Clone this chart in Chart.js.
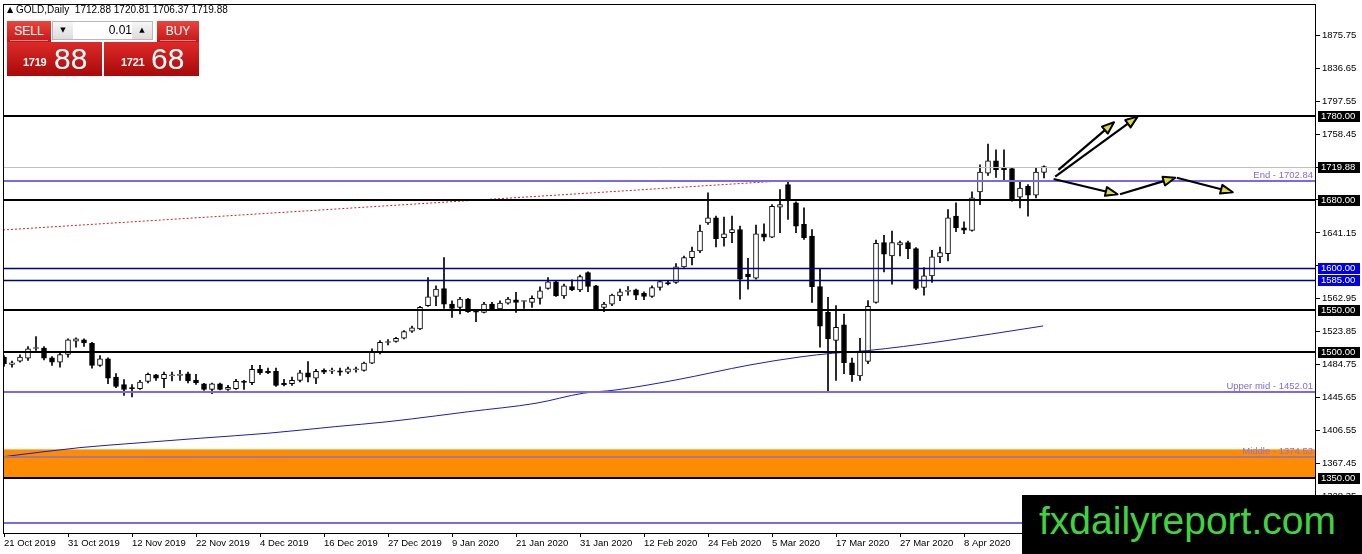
<!DOCTYPE html>
<html>
<head>
<meta charset="utf-8">
<script src="https://cdn.jsdelivr.net/npm/chart.js@4.4.1/dist/chart.umd.min.js"></script>
<style>
  body { margin: 0; background: #fff; overflow: hidden; }
  #wrap { position: relative; width: 1362px; height: 554px; }
  #chart { position: absolute; left: 0; top: 0; }
  .hdr { position: absolute; left: 7px; top: 4px; font: 10px 'Liberation Sans', Arial, sans-serif; color: #000; white-space: pre; }
  .hdr .tri { font: 8px 'DejaVu Sans', sans-serif; vertical-align: 1px; }
  .btn { position: absolute; top: 21px; height: 21px; background: linear-gradient(#ea453d, #c51717); color: #fff;
         font: 12px 'Liberation Sans', Arial, sans-serif; text-align: center; line-height: 20px; }
  .btn i { position: absolute; left: 3px; right: 3px; bottom: 1px; height: 1px; background: #f08a86; }
  .spin { position: absolute; left: 52px; top: 21px; width: 101px; height: 19px; background: #fff; border: 1px solid #b8b8b8; box-sizing: border-box; }
  .spin .b { position: absolute; top: 0; width: 20px; height: 17px; background: linear-gradient(#f6f6f6, #dcdcdc); font: 7px 'DejaVu Sans', sans-serif; text-align: center; line-height: 17px; color: #000; }
  .spin .v { position: absolute; left: 21px; width: 58px; top: 0; height: 17px; font: 12px 'Liberation Sans', Arial, sans-serif; text-align: right; line-height: 17px; color: #000; }
  .price { position: absolute; top: 42px; width: 95px; height: 34px; background: linear-gradient(#dd2a28, #a80909); color: #fff; }
  .price .sm { position: absolute; top: 15px; font: bold 11px 'Liberation Sans', Arial, sans-serif; line-height: 1; letter-spacing: -0.3px; }
  .price .lg { position: absolute; top: 2px; font: 30px 'Liberation Sans', Arial, sans-serif; line-height: 1; }
  .wm { position: absolute; left: 1022px; top: 495px; width: 340px; height: 59px; background: #000; }
  .wm span { position: absolute; left: 17px; top: 6px; font: 39px 'Liberation Sans', Arial, sans-serif; line-height: 1; color: #3fd43f; }
</style>
</head>
<body>
<div id="wrap">
  <canvas id="chart" width="1362" height="554"></canvas>
  <div class="hdr"><span class="tri">&#9650;</span> GOLD,Daily  1712.88 1720.81 1706.37 1719.88</div>
  <div class="btn" style="left:7px;width:44px">SELL<i></i></div>
  <div class="spin"><div class="b" style="left:0">&#9660;</div><div class="v">0.01</div><div class="b" style="right:0">&#9650;</div></div>
  <div class="btn" style="left:157px;width:42px">BUY<i></i></div>
  <div class="price" style="left:7px"><span class="sm" style="left:16px">1719</span><span class="lg" style="left:47px">88</span></div>
  <div class="price" style="left:104px"><span class="sm" style="left:17px">1721</span><span class="lg" style="left:47px">68</span></div>
  <div class="wm"><span>fxdailyreport.com</span></div>
</div>
<script>
// daily bars, 21 Oct 2019 .. 17 Apr 2020, one per trading day
const tickLabels = ['21 Oct 2019', '31 Oct 2019', '12 Nov 2019', '22 Nov 2019', '4 Dec 2019', '16 Dec 2019',
  '27 Dec 2019', '9 Jan 2020', '21 Jan 2020', '31 Jan 2020', '12 Feb 2020', '24 Feb 2020', '5 Mar 2020',
  '17 Mar 2020', '27 Mar 2020', '8 Apr 2020'];
const barsPerLabel = 8;
const priceTicks = [1875.75, 1836.65, 1797.55, 1758.45, 1719.35, 1680.25, 1641.15, 1602.05, 1562.95,
  1523.85, 1484.75, 1445.65, 1406.55, 1367.45, 1328.35];

const open = [1493.5, 1484.9, 1488.8, 1492.4, 1503.8, 1504.2, 1492.7, 1487.6, 1496.7, 1512.5,
  1514.0, 1510.1, 1483.7, 1491.6, 1469.9, 1460.9, 1457.3, 1456.1, 1464.8, 1472.7,
  1467.9, 1471.5, 1471.9, 1473.8, 1466.0, 1462.0, 1455.3, 1462.0, 1455.3, 1456.1,
  1465.2, 1463.2, 1479.0, 1476.6, 1476.6, 1462.4, 1462.0, 1466.0, 1475.0, 1468.7,
  1477.8, 1477.0, 1477.4, 1475.8, 1478.6, 1477.8, 1486.4, 1499.5, 1510.9, 1512.1,
  1516.0, 1524.5, 1527.0, 1554.6, 1565.7, 1575.1, 1556.6, 1552.6, 1562.5, 1548.7,
  1546.7, 1556.6, 1550.7, 1557.8, 1561.7, 1559.7, 1558.6, 1563.3, 1575.1, 1583.0,
  1566.4, 1577.5, 1573.5, 1594.0, 1578.3, 1552.6, 1556.6, 1566.4, 1571.6, 1573.5,
  1569.6, 1565.7, 1576.3, 1582.2, 1582.2, 1600.7, 1611.8, 1619.6, 1653.1, 1659.0,
  1635.4, 1641.3, 1645.2, 1592.1, 1587.3, 1640.1, 1636.2, 1671.6, 1698.4, 1676.8,
  1651.2, 1637.4, 1577.5, 1546.8, 1513.3, 1531.8, 1486.9, 1471.2, 1488.5, 1558.6,
  1629.5, 1613.8, 1626.8, 1629.5, 1622.4, 1576.3, 1590.1, 1612.6, 1616.5, 1661.0,
  1647.2, 1644.1, 1689.8, 1712.2, 1726.8, 1718.2, 1717.4, 1683.5, 1696.5, 1685.8,
  1712.88];
const high = [1495.5, 1488.8, 1496.3, 1506.2, 1518.0, 1506.2, 1494.3, 1498.3, 1515.2, 1516.4,
  1515.2, 1511.3, 1495.5, 1492.7, 1473.9, 1466.8, 1460.9, 1466.0, 1474.6, 1473.1,
  1475.8, 1475.8, 1477.8, 1475.8, 1473.1, 1462.4, 1462.8, 1462.8, 1460.0, 1467.1,
  1466.0, 1483.7, 1483.7, 1480.5, 1480.5, 1467.1, 1469.9, 1477.8, 1488.4, 1479.0,
  1479.7, 1480.5, 1480.5, 1481.7, 1481.7, 1487.6, 1503.4, 1513.2, 1514.4, 1517.2,
  1525.1, 1530.5, 1553.8, 1588.1, 1578.3, 1611.8, 1560.5, 1564.5, 1563.3, 1549.5,
  1558.6, 1558.6, 1560.5, 1564.5, 1570.4, 1560.5, 1566.4, 1577.1, 1588.1, 1584.2,
  1580.2, 1585.4, 1590.9, 1594.8, 1579.0, 1558.6, 1568.4, 1574.3, 1577.5, 1574.3,
  1571.2, 1578.3, 1584.9, 1584.2, 1604.7, 1613.7, 1624.4, 1650.4, 1688.6, 1661.0,
  1659.8, 1661.0, 1649.2, 1611.0, 1650.4, 1652.0, 1674.8, 1692.5, 1702.4, 1678.0,
  1670.9, 1645.2, 1598.0, 1564.5, 1554.7, 1544.8, 1492.4, 1516.0, 1560.6, 1632.7,
  1638.2, 1643.3, 1631.5, 1631.5, 1623.6, 1600.0, 1620.4, 1624.4, 1668.9, 1676.8,
  1654.3, 1689.8, 1722.1, 1746.5, 1739.8, 1739.8, 1718.2, 1702.4, 1698.5, 1718.2,
  1720.81];
const low = [1482.5, 1481.7, 1487.6, 1489.6, 1501.4, 1490.4, 1483.7, 1481.7, 1493.5, 1505.4,
  1506.2, 1480.5, 1482.5, 1462.0, 1457.3, 1448.2, 1446.3, 1455.3, 1462.8, 1466.0,
  1457.3, 1465.2, 1466.0, 1462.8, 1461.2, 1454.1, 1450.2, 1454.5, 1454.1, 1455.3,
  1455.3, 1460.8, 1473.1, 1473.8, 1458.9, 1459.3, 1460.0, 1464.0, 1464.0, 1462.0,
  1473.8, 1473.8, 1471.9, 1473.8, 1475.8, 1477.0, 1485.7, 1497.5, 1508.1, 1511.3,
  1515.2, 1523.0, 1526.3, 1553.8, 1554.6, 1551.5, 1540.8, 1544.8, 1546.7, 1535.7,
  1546.0, 1548.7, 1548.7, 1556.6, 1546.7, 1551.5, 1552.6, 1556.6, 1574.3, 1565.7,
  1563.3, 1572.4, 1571.2, 1571.2, 1549.9, 1547.5, 1554.6, 1560.5, 1567.2, 1561.7,
  1561.7, 1564.5, 1573.1, 1579.4, 1581.0, 1600.0, 1603.1, 1617.7, 1651.2, 1624.4,
  1625.5, 1629.5, 1562.5, 1574.3, 1586.2, 1631.5, 1635.4, 1641.3, 1657.1, 1641.3,
  1633.4, 1558.6, 1505.4, 1453.0, 1466.0, 1473.9, 1464.8, 1466.0, 1485.7, 1557.8,
  1594.9, 1580.3, 1613.8, 1610.6, 1573.6, 1567.3, 1582.2, 1605.9, 1607.8, 1642.5,
  1640.1, 1643.3, 1674.8, 1709.5, 1707.1, 1702.4, 1678.8, 1670.9, 1661.0, 1682.7,
  1706.37];
const close = [1485.7, 1486.9, 1493.5, 1503.4, 1504.6, 1492.4, 1487.6, 1496.7, 1514.0, 1515.2,
  1510.5, 1483.7, 1491.6, 1468.7, 1458.9, 1455.3, 1456.1, 1464.0, 1473.1, 1468.7,
  1473.1, 1472.3, 1472.3, 1465.2, 1463.2, 1455.3, 1462.0, 1455.3, 1457.7, 1464.8,
  1463.6, 1479.0, 1475.0, 1475.0, 1460.0, 1460.8, 1466.0, 1475.0, 1469.9, 1476.6,
  1475.8, 1477.4, 1475.8, 1479.7, 1479.4, 1486.4, 1500.2, 1511.3, 1511.7, 1516.0,
  1523.9, 1528.5, 1552.6, 1565.3, 1574.3, 1556.6, 1551.5, 1562.5, 1547.5, 1547.1,
  1556.6, 1549.9, 1557.8, 1562.5, 1558.6, 1560.1, 1563.3, 1572.4, 1583.0, 1566.4,
  1578.3, 1573.5, 1589.3, 1577.5, 1550.7, 1556.6, 1567.2, 1571.2, 1572.4, 1567.2,
  1565.7, 1576.3, 1583.4, 1580.6, 1600.7, 1611.8, 1619.6, 1643.3, 1659.0, 1634.2,
  1640.1, 1645.2, 1586.2, 1588.9, 1640.1, 1636.2, 1672.8, 1674.8, 1681.9, 1649.2,
  1635.4, 1577.3, 1530.2, 1515.3, 1529.1, 1486.9, 1472.7, 1500.3, 1553.9, 1628.8,
  1615.8, 1629.5, 1629.5, 1622.4, 1575.2, 1590.1, 1612.6, 1617.7, 1659.1, 1647.2,
  1644.5, 1682.7, 1713.4, 1726.8, 1716.2, 1716.2, 1681.9, 1694.5, 1685.8, 1713.4,
  1719.88];

// moving average (bar index, price)
const maBar = [0, 9.5, 16.25, 24.6, 33, 41.4, 48, 53.9, 58.1, 66.5, 72.4, 76.5, 84, 93.25, 99.5, 103.6, 107.9, 117, 129.9];
const maValue = [1375.4, 1386.1, 1391.3, 1397.3, 1403.2, 1411.0, 1416.9, 1423.7, 1428.8, 1438.8, 1450.7, 1454.6,
  1466.5, 1484.3, 1493.8, 1498.2, 1501.3, 1512.0, 1530.6];

// red trend line
const trendBar = [-0.125, 96.1];
const trendValue = [1644.6, 1702.2];

// horizontal levels and zone
const blackLevels = [1780, 1680, 1550, 1500, 1350];
const blueLevels = [1600, 1585];
const purpleLevels = [1702.84, 1452.01, 1297.0];
const middleLevel = 1374.53;
const bidLevel = 1719.88;
const zone = [1384.0, 1350];
const levelNotes = ['End - 1702.84', 'Upper mid - 1452.01', 'Middle - 1374.53'];
const levelNoteValues = [1702.84, 1452.01, 1374.53];
const blackBoxes = [1780, 1719.88, 1680, 1550, 1500, 1350];
const blueBoxes = [1600, 1585];

// drawn arrows: [bar index, price] from -> to
const arrowFrom = [[131.8, 1715.9], [131.4, 1707.9], [131.2, 1705.2], [139.5, 1687.0], [146.6, 1706.7]];
const arrowTo = [[138.75, 1772.5], [141.7, 1779.2], [139.2, 1687.0], [146.4, 1706.7], [153.6, 1689.4]];

const FONT = "'Liberation Sans', Arial, sans-serif";
const boxed = blackBoxes.concat(blueBoxes);

const overlay = {
  id: 'overlay',
  beforeDatasetsDraw(chart) {
    const { ctx, chartArea: a, scales: { y } } = chart;
    const t = y.getPixelForValue(zone[0]), b = y.getPixelForValue(zone[1]);
    ctx.save();
    ctx.fillStyle = '#ff8c00';
    ctx.fillRect(a.left, t, a.right - a.left, b - t);
    ctx.restore();
  },
  afterDatasetsDraw(chart) {
    const { ctx, chartArea: a, scales: { x, y } } = chart;
    const hline = (v, color, w) => {
      let py = y.getPixelForValue(v);
      py = w % 2 ? Math.round(py) + 0.5 : Math.round(py);
      ctx.beginPath();
      ctx.strokeStyle = color;
      ctx.lineWidth = w;
      ctx.moveTo(a.left, py);
      ctx.lineTo(a.right, py);
      ctx.stroke();
    };
    ctx.save();
    hline(middleLevel, '#a5789a', 2);
    hline(bidLevel, '#c0c0c0', 1);
    purpleLevels.forEach(v => hline(v, '#7b68ee', 2));
    blueLevels.forEach(v => hline(v, '#00008b', 1.5));
    blackLevels.forEach(v => hline(v, '#000', 2));

    ctx.font = '9.5px ' + FONT;
    ctx.textAlign = 'right';
    ctx.textBaseline = 'alphabetic';
    levelNotes.forEach((txt, k) => {
      ctx.fillStyle = k === 2 ? '#9a6fc8' : '#7b6be0';
      ctx.fillText(txt, a.right - 3, y.getPixelForValue(levelNoteValues[k]) - 3);
    });

    // arrows
    arrowFrom.forEach((f, k) => {
      const x0 = x.getPixelForValue(f[0]), y0 = y.getPixelForValue(f[1]);
      const x1 = x.getPixelForValue(arrowTo[k][0]), y1 = y.getPixelForValue(arrowTo[k][1]);
      const ang = Math.atan2(y1 - y0, x1 - x0);
      const len = 12, hw = 4.5;
      const bx = x1 - len * Math.cos(ang), by = y1 - len * Math.sin(ang);
      ctx.beginPath();
      ctx.strokeStyle = '#000';
      ctx.lineWidth = 2.2;
      ctx.moveTo(x0, y0);
      ctx.lineTo(bx, by);
      ctx.stroke();
      ctx.beginPath();
      ctx.moveTo(x1, y1);
      ctx.lineTo(bx - hw * Math.sin(ang), by + hw * Math.cos(ang));
      ctx.lineTo(bx + hw * Math.sin(ang), by - hw * Math.cos(ang));
      ctx.closePath();
      ctx.fillStyle = '#dede30';
      ctx.fill();
      ctx.lineWidth = 2;
      ctx.lineJoin = 'round';
      ctx.stroke();
    });
    ctx.restore();
  },
  afterDraw(chart) {
    const { ctx, chartArea: a, scales: { y } } = chart;
    ctx.save();
    ctx.strokeStyle = '#000';
    ctx.lineWidth = 1;
    ctx.strokeRect(a.left + 0.5, a.top + 0.5, a.right - a.left - 1, a.bottom - a.top - 1);
    ctx.font = '9.5px ' + FONT;
    ctx.textAlign = 'left';
    ctx.textBaseline = 'middle';
    const box = (v, bg) => {
      const py = Math.round(y.getPixelForValue(v));
      ctx.fillStyle = bg;
      ctx.fillRect(a.right + 2, py - 5, 42, 11);
      ctx.fillStyle = '#fff';
      ctx.fillText(v.toFixed(2), a.right + 5, py + 0.5);
    };
    blackBoxes.forEach(v => box(v, '#000'));
    blueBoxes.forEach(v => box(v, '#0000e0'));
    ctx.restore();
  }
};

const idx = open.map((_, i) => i);

new Chart(document.getElementById('chart'), {
  type: 'bar',
  data: {
    datasets: [
      {
        type: 'line',
        data: maBar.map((b, k) => ({ x: b, y: maValue[k] })),
        borderColor: '#1c1cb4',
        borderWidth: 1,
        pointRadius: 0,
        cubicInterpolationMode: 'monotone',
        order: 0
      },
      {
        type: 'line',
        data: trendBar.map((b, k) => ({ x: b, y: trendValue[k] })),
        borderColor: '#d42020',
        borderWidth: 1,
        borderDash: [2, 2],
        pointRadius: 0,
        order: 0
      },
      {
        data: idx.map(i => ({ x: i, y: [open[i], close[i]] })),
        backgroundColor: idx.map(i => (close[i] >= open[i] ? '#fff' : '#000')),
        borderColor: '#000',
        borderWidth: 1,
        borderSkipped: false,
        barThickness: 5,
        minBarLength: 1,
        grouped: false,
        order: 1
      },
      {
        data: idx.map(i => ({ x: i, y: [low[i], high[i]] })),
        backgroundColor: '#000',
        borderWidth: 0,
        barThickness: 1,
        grouped: false,
        order: 2
      }
    ]
  },
  options: {
    responsive: false,
    animation: false,
    layout: { padding: { left: 3, top: 4, right: 0, bottom: 0 } },
    plugins: { legend: { display: false }, tooltip: { enabled: false } },
    scales: {
      x: {
        type: 'linear',
        min: -0.125,
        max: 164,
        offset: false,
        afterBuildTicks: ax => { ax.ticks = tickLabels.map((_, k) => ({ value: k * barsPerLabel })); },
        afterFit: ax => { ax.height = 20; ax.paddingLeft = 0; ax.paddingRight = 0; },
        ticks: {
          callback: v => tickLabels[Math.round(v / barsPerLabel)] || '',
          align: 'start',
          maxRotation: 0,
          autoSkip: false,
          color: '#000',
          padding: 1,
          font: { family: FONT, size: 9.5 }
        },
        grid: { drawOnChartArea: false, offset: false, tickLength: 3, color: '#000' },
        border: { display: false }
      },
      y: {
        position: 'right',
        min: 1283.5,
        max: 1913,
        afterBuildTicks: ax => { ax.ticks = priceTicks.map(v => ({ value: v })); },
        afterFit: ax => { ax.width = 46; ax.paddingTop = 0; ax.paddingBottom = 0; },
        ticks: {
          // labels sitting under a boxed level label are left out, as on the terminal
          callback: v => (boxed.some(b => Math.abs(b - v) < 5) ? '' : v.toFixed(2)),
          color: '#000',
          padding: 2,
          font: { family: FONT, size: 9.5 }
        },
        grid: { drawOnChartArea: false, tickLength: 4, color: '#000' },
        border: { display: false }
      }
    }
  },
  plugins: [overlay]
});
</script>
</body>
</html>
